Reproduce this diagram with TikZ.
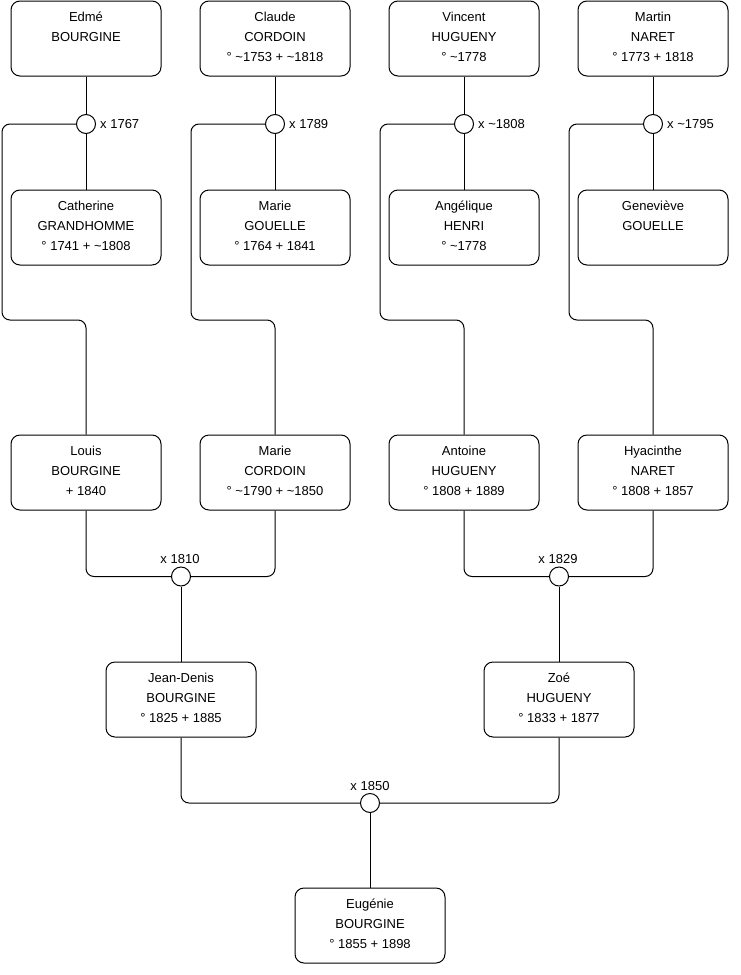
\documentclass[tikz,border=0pt]{standalone}
\usepackage{fontspec}
\setmainfont{Liberation Sans}
\usetikzlibrary{calc}
\newcommand\famperson[3]{%
  \node[person] (#1) at (#2) {};
  \node[txt] (#1t) at ($(#1.north)+(0,8.5)$) {\rule{0pt}{12pt}#3};}
\begin{document}
\begin{tikzpicture}[x=1pt,y=-1pt,
  person/.style={draw, rounded corners=9pt, minimum width=150pt, minimum height=75pt, inner sep=0pt, line width=1pt},
  txt/.style={align=center, font=\fontsize{13}{20}\selectfont, inner sep=0pt, anchor=north},
  union/.style={draw, circle, fill=white, minimum size=19pt, inner sep=0pt, line width=1pt},
  lbl/.style={font=\fontsize{13}{15}\selectfont, inner sep=0pt},
  conn/.style={line width=1pt, rounded corners=8pt}]
\useasboundingbox (0,0) rectangle (740,975);
% row 1
\famperson{a1}{86,38.5}{Edmé\\BOURGINE}
\famperson{a2}{275,38.5}{Claude\\CORDOIN\\° \textasciitilde1753 + \textasciitilde1818}
\famperson{a3}{464,38.5}{Vincent\\HUGUENY\\° \textasciitilde1778}
\famperson{a4}{653,38.5}{Martin\\NARET\\° 1773 + 1818}
% row 2
\famperson{b1}{86,227.5}{Catherine\\GRANDHOMME\\° 1741 + \textasciitilde1808}
\famperson{b2}{275,227.5}{Marie\\GOUELLE\\° 1764 + 1841}
\famperson{b3}{464,227.5}{Angélique\\HENRI\\° \textasciitilde1778}
\famperson{b4}{653,227.5}{Geneviève\\GOUELLE}
% row 3
\famperson{r1}{86,472.5}{Louis\\BOURGINE\\+ 1840}
\famperson{r2}{275,472.5}{Marie\\CORDOIN\\° \textasciitilde1790 + \textasciitilde1850}
\famperson{r3}{464,472.5}{Antoine\\HUGUENY\\° 1808 + 1889}
\famperson{r4}{653,472.5}{Hyacinthe\\NARET\\° 1808 + 1857}
% row 4
\famperson{s1}{181,699.5}{Jean-Denis\\BOURGINE\\° 1825 + 1885}
\famperson{s2}{559,699.5}{Zoé\\HUGUENY\\° 1833 + 1877}
% row 5
\famperson{e}{370,925.5}{Eugénie\\BOURGINE\\° 1855 + 1898}
% unions
\node[union] (c1) at (86,124) {};
\node[union] (c2) at (275,124) {};
\node[union] (c3) at (464,124) {};
\node[union] (c4) at (653,124) {};
\node[union] (m1) at (181,576.5) {};
\node[union] (m2) at (559,576.5) {};
\node[union] (m3) at (370,803) {};
% bend coordinates
\coordinate (k1) at (2,320);
\coordinate (k2) at (191,320);
\coordinate (k3) at (380,320);
\coordinate (k4) at (569,320);
% top connectors
\foreach \i in {1,2,3,4}{
  \draw[conn] (a\i.south) -- (c\i.north);
  \draw[conn] (c\i.south) -- (b\i.north);
  \draw[conn] (c\i.west) -| (k\i) -| (r\i.north);
}
% bottom connectors
\draw[conn] (r1.south) |- (m1.west);
\draw[conn] (r2.south) |- (m1.east);
\draw[conn] (m1.south) -- (s1.north);
\draw[conn] (r3.south) |- (m2.west);
\draw[conn] (r4.south) |- (m2.east);
\draw[conn] (m2.south) -- (s2.north);
\draw[conn] (s1.south) |- (m3.west);
\draw[conn] (s2.south) |- (m3.east);
\draw[conn] (m3.south) -- (e.north);
% labels
\node[lbl, anchor=west] (l1) at ($(c1.center)+(14,0)$) {x 1767};
\node[lbl, anchor=west] (l2) at ($(c2.center)+(14,0)$) {x 1789};
\node[lbl, anchor=west] (l3) at ($(c3.center)+(14,0)$) {x \textasciitilde1808};
\node[lbl, anchor=west] (l4) at ($(c4.center)+(14,0)$) {x \textasciitilde1795};
\node[lbl, anchor=base] (l5) at ($(m1.center)+(-1,-13.5)$) {x 1810};
\node[lbl, anchor=base] (l6) at ($(m2.center)+(-1,-13.5)$) {x 1829};
\node[lbl, anchor=base] (l7) at ($(m3.center)+(0,-12.5)$) {x 1850};
\end{tikzpicture}
\end{document}
